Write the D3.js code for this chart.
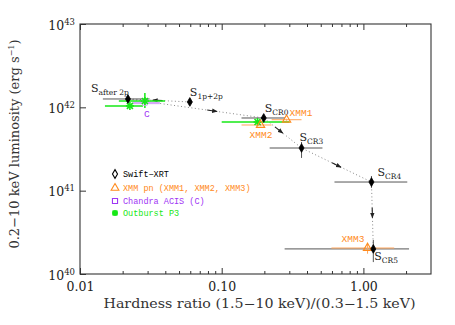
<!DOCTYPE html>
<html><head><meta charset="utf-8">
<script src="https://cdn.jsdelivr.net/npm/d3@7"></script>
<style>body{margin:0;background:#fff}svg{display:block}</style>
</head><body><svg id="c" width="455" height="325"></svg>
<script>
// ---- data ----
const xMajor = [0.01, 0.1, 1];
const xMinor = [0.02,0.03,0.04,0.05,0.06,0.07,0.08,0.09,0.2,0.3,0.4,0.5,0.6,0.7,0.8,0.9,2];
const yMajor = [1e40, 1e41, 1e42, 1e43];

const swiftNames = ["after 2p", "1p+2p", "CR0", "CR3", "CR4", "CR5"];
const swiftHR    = [0.0218, 0.0596, 0.198, 0.366, 1.14, 1.175];
const swiftHRlo  = [0.0145, 0.0575, 0.138, 0.218, 0.625, 0.278];
const swiftHRhi  = [0.031, 0.0618, 0.28, 0.514, 2.04, 2.1];
const swiftL     = [1.26e42, 1.16e42, 7.45e41, 3.25e41, 1.27e41, 2.0e40];
const swiftLlo   = [1.2e42, 1.12e42, 7.1e41, 2.47e41, 1.08e41, 1.39e40];
const swiftLhi   = [1.32e42, 1.2e42, 7.8e41, 3.84e41, 1.5e41, 2.56e40];
const pathOrder  = ["1p+2p", "after 2p", "CR0", "CR3", "CR4", "CR5"];

const xmmNames = ["XMM1", "XMM2", "XMM3"];
const xmmHR    = [0.287, 0.188, 1.07];
const xmmHRlo  = [0.225, 0.138, 0.595];
const xmmHRhi  = [0.366, 0.225, 1.65];
const xmmL     = [7.1e41, 6.14e41, 2.05e40];
const xmmLlo   = [6.9e41, 5.95e41, 1.75e40];
const xmmLhi   = [7.3e41, 6.35e41, 2.35e40];

const chandraHR = [0.0287], chandraHRlo = [0.0236], chandraHRhi = [0.0366];
const chandraL = [1.13e42];

const p3HR   = [0.0287, 0.0225, 0.179];
const p3HRlo = [0.0188, 0.015, 0.1];
const p3HRhi = [0.0398, 0.0278, 0.301];
const p3L    = [1.19e42, 1.04e42, 6.67e41];
const p3Llo  = [9.8e41, 1.0e42, 6.4e41];
const p3Lhi  = [1.49e42, 1.08e42, 6.95e41];

const legendLabels = ["Swift\u2212XRT", "XMM pn (XMM1, XMM2, XMM3)", "Chandra ACIS (C)", "Outburst P3"];

// ---- styles ----
const cBlack = "#000", cOrange = "#ff8a1c", cOrangeLt = "#ffa55a", cPurple = "#9f35f5",
      cLav = "#d6a8f8", cGreen = "#16e816";
const serif = "'DejaVu Serif', serif", mono = "'Liberation Mono', 'DejaVu Sans Mono', monospace";

const svg = d3.select("#c");
const L = 80, T = 24, R = 431, B = 274;
const x = d3.scaleLog().domain([0.01, 3]).range([L, R]);
const y = d3.scaleLog().domain([1e40, 1e43]).range([B, T]);

// axes
const gx = svg.append("g").attr("transform", `translate(0,${B})`)
  .call(d3.axisBottom(x).tickValues(xMajor).tickSize(-6).tickPadding(8).tickFormat(d3.format(".2f")));
gx.selectAll("text").attr("font-family", serif).attr("font-size", 12.5).attr("fill", "#222");
svg.append("g").attr("transform", `translate(0,${B})`)
  .call(d3.axisBottom(x).tickValues(xMinor).tickSize(-3).tickFormat(""));
svg.append("g").attr("transform", `translate(0,${T})`)
  .call(d3.axisTop(x).tickValues(xMajor).tickSize(-6).tickFormat(""));
svg.append("g").attr("transform", `translate(0,${T})`)
  .call(d3.axisTop(x).tickValues(xMinor).tickSize(-3).tickFormat(""));
const gy = svg.append("g").attr("transform", `translate(${L},0)`)
  .call(d3.axisLeft(y).tickValues(yMajor).tickSize(-6).tickPadding(5).tickFormat(""));
gy.selectAll(".tick text").each(function(d){
  const t = d3.select(this).attr("font-family", serif).attr("font-size", 12.5).attr("fill", "#222").attr("dy", "0.4em");
  t.append("tspan").text("10");
  t.append("tspan").attr("dy", -5).attr("font-size", 8.5).text(Math.round(Math.log10(d)));
});
svg.selectAll(".domain").remove();
svg.selectAll(".tick line").attr("stroke", "#333");
svg.append("rect").attr("x", L).attr("y", T).attr("width", R - L).attr("height", B - T)
  .attr("fill", "none").attr("stroke", "#333").attr("stroke-width", 1.1);

// axis titles
svg.append("text").attr("x", (L + R) / 2 + 4).attr("y", 308).attr("text-anchor", "middle")
  .attr("font-family", serif).attr("font-size", 12).attr("fill", "#333")
  .attr("textLength", 312).attr("lengthAdjust", "spacingAndGlyphs")
  .text("Hardness ratio (1.5\u221210 keV)/(0.3\u22121.5 keV)");
const yt = svg.append("text").attr("transform", `translate(19,${(T + B) / 2 - 5}) rotate(-90)`)
  .attr("text-anchor", "middle").attr("font-family", serif).attr("font-size", 13).attr("fill", "#333");
yt.append("tspan").text("0.2\u221210 keV luminosity (erg s");
yt.append("tspan").attr("dy", -5).attr("font-size", 8).text("\u22121");
yt.append("tspan").attr("dy", 5).text(")");

const plot = svg.append("g");

// path with arrows
const idx = pathOrder.map(n => swiftNames.indexOf(n));
const pts = idx.map(i => [x(swiftHR[i]), y(swiftL[i])]);
plot.append("path").attr("d", d3.line()(pts)).attr("fill", "none")
  .attr("stroke", "#888").attr("stroke-width", 1).attr("stroke-dasharray", "1,2.5");
svg.append("defs").append("marker").attr("id", "ah").attr("viewBox", "0 0 10 10")
  .attr("refX", 9).attr("refY", 5).attr("markerWidth", 5).attr("markerHeight", 5).attr("orient", "auto")
  .append("path").attr("d", "M0,1 L10,5 L0,9 z").attr("fill", "#222");
const fracs = [0.52, 0.62, 0.4, 0.5, 0.46];
for (let k = 0; k < pts.length - 1; k++) {
  const [x0, y0] = pts[k], [x1, y1] = pts[k + 1];
  const len = Math.hypot(x1 - x0, y1 - y0), ux = (x1 - x0) / len, uy = (y1 - y0) / len;
  const cx = x0 + (x1 - x0) * fracs[k], cy = y0 + (y1 - y0) * fracs[k];
  plot.append("line").attr("x1", cx - ux * 5).attr("y1", cy - uy * 5).attr("x2", cx + ux * 5).attr("y2", cy + uy * 5)
    .attr("stroke", "#222").attr("stroke-width", 1.1).attr("marker-end", "url(#ah)");
}

function errbars(hr, lo, hi, l, llo, lhi, color, w) {
  hr.forEach((v, i) => {
    plot.append("line").attr("x1", x(lo[i])).attr("x2", x(hi[i])).attr("y1", y(l[i])).attr("y2", y(l[i]))
      .attr("stroke", color).attr("stroke-width", w);
    if (llo) plot.append("line").attr("x1", x(v)).attr("x2", x(v)).attr("y1", y(llo[i])).attr("y2", y(lhi[i]))
      .attr("stroke", color).attr("stroke-width", w);
  });
}
errbars(chandraHR, chandraHRlo, chandraHRhi, chandraL, null, null, cLav, 2.5);
errbars(swiftHR, swiftHRlo, swiftHRhi, swiftL, swiftLlo, swiftLhi, "#555", 1);
errbars(xmmHR, xmmHRlo, xmmHRhi, xmmL, xmmLlo, xmmLhi, cOrangeLt, 1);
errbars(p3HR, p3HRlo, p3HRhi, p3L, p3Llo, p3Lhi, cGreen, 1.5);

function star(g, cx, cy, r, color) {
  const s = g.append("g").attr("transform", `translate(${cx},${cy})`);
  [[-r,0,r,0],[0,-r,0,r],[-r*0.75,-r*0.75,r*0.75,r*0.75],[-r*0.75,r*0.75,r*0.75,-r*0.75]].forEach(a =>
    s.append("line").attr("x1", a[0]).attr("y1", a[1]).attr("x2", a[2]).attr("y2", a[3])
      .attr("stroke", color).attr("stroke-width", 1.6));
}
const sym = d3.symbol();
chandraHR.forEach((v, i) => {
  plot.append("path").attr("d", sym.type(d3.symbolSquare).size(22)()).attr("transform", `translate(${x(v)},${y(chandraL[i])})`)
    .attr("fill", "none").attr("stroke", cLav).attr("stroke-width", 1);
  plot.append("text").attr("x", x(v) + 2).attr("y", y(chandraL[i]) + 14).attr("text-anchor", "middle")
    .attr("font-family", mono).attr("font-size", 9.5).attr("fill", cPurple).text("C");
});
p3HR.forEach((v, i) => star(plot, x(v), y(p3L[i]), 4, cGreen));
xmmHR.forEach((v, i) => {
  plot.append("path").attr("d", sym.type(d3.symbolTriangle).size(30)()).attr("transform", `translate(${x(v)},${y(xmmL[i])})`)
    .attr("fill", "none").attr("stroke", cOrange).attr("stroke-width", 1.1);
});
const xmmOff = [[3, -4, "start"], [-11, 13, "start"], [-26, -6, "start"]];
xmmNames.forEach((n, i) => {
  plot.append("text").attr("x", x(xmmHR[i]) + xmmOff[i][0]).attr("y", y(xmmL[i]) + xmmOff[i][1])
    .attr("font-family", mono).attr("font-size", 9.5).attr("fill", cOrange).text(n);
});
swiftHR.forEach((v, i) => {
  plot.append("path").attr("d", sym.type(d3.symbolDiamond).size(22)()).attr("transform", `translate(${x(v)},${y(swiftL[i])})`)
    .attr("fill", "#000").attr("stroke", "#000").attr("stroke-width", 0.8);
});
const sOff = [[-37, -7], [0, -6], [1, -6], [-2, -7], [6, -6], [1, 11]];
swiftNames.forEach((n, i) => {
  const t = plot.append("text").attr("x", x(swiftHR[i]) + sOff[i][0]).attr("y", y(swiftL[i]) + sOff[i][1])
    .attr("font-family", serif).attr("font-size", 11).attr("fill", "#222");
  t.append("tspan").text("S");
  t.append("tspan").attr("dy", 3).attr("font-size", 7.5).text(n);
});

// legend
const legY = [177, 191, 204, 216], legX = 115;
const legColors = [cBlack, cOrange, cPurple, cGreen];
const lg = svg.append("g");
lg.append("path").attr("d", sym.type(d3.symbolDiamond).size(22)()).attr("transform", `translate(${legX},${legY[0] - 3})`)
  .attr("fill", "none").attr("stroke", "#000").attr("stroke-width", 1.1);
lg.append("path").attr("d", sym.type(d3.symbolTriangle).size(26)()).attr("transform", `translate(${legX},${legY[1] - 3})`)
  .attr("fill", "none").attr("stroke", cOrange).attr("stroke-width", 1.1);
lg.append("path").attr("d", sym.type(d3.symbolSquare).size(26)()).attr("transform", `translate(${legX},${legY[2] - 3})`)
  .attr("fill", "none").attr("stroke", cPurple).attr("stroke-width", 1.1);
lg.append("rect").attr("x", legX - 2.5).attr("y", legY[3] - 5.5).attr("width", 5).attr("height", 5).attr("fill", cGreen);
star(lg, legX, legY[3] - 3, 3, cGreen);
legendLabels.forEach((t, i) => lg.append("text").attr("x", legX + 8).attr("y", legY[i])
  .attr("font-family", mono).attr("font-size", 8.5).attr("fill", legColors[i]).text(t));
</script></body></html>
